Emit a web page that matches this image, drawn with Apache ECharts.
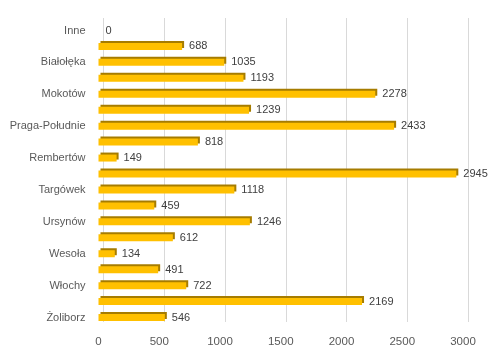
<!DOCTYPE html>
<html><head><meta charset="utf-8">
<script src="https://cdn.jsdelivr.net/npm/echarts@6/dist/echarts.min.js"></script>
<style>html,body{margin:0;padding:0;background:#fff}#c{width:498px;height:360px}</style>
</head><body><div id="c"></div>
<script>
const categories = ['Inne','Bemowo','Białołęka','Bielany','Mokotów','Ochota','Praga-Południe','Praga-Północ','Rembertów','Śródmieście','Targówek','Ursus','Ursynów','Wawer','Wesoła','Wilanów','Włochy','Wola','Żoliborz'];
const values = [0,688,1035,1193,2278,1239,2433,818,149,2945,1118,459,1246,612,134,491,722,2169,546];
const xTicks = [0,500,1000,1500,2000,2500,3000];

const chart = echarts.init(document.getElementById('c'), null, {renderer:'canvas'});
const font = 'Liberation Sans';
chart.setOption({
  animation:false,
  backgroundColor:'#fff',
  grid:[
    {left:98.5, right:35, top:22.5, bottom:34.5},
    {left:103.5, right:30, top:18, bottom:38}
  ],
  xAxis:[
    {gridIndex:0, type:'value', min:xTicks[0], max:xTicks[xTicks.length-1], interval:500,
     axisLine:{show:false}, axisTick:{show:false}, splitLine:{show:false},
     axisLabel:{color:'#595959', fontFamily:font, fontSize:11.5, margin:10, formatter:v=>String(v)}},
    {gridIndex:1, type:'value', min:xTicks[0], max:xTicks[xTicks.length-1], interval:500,
     axisLine:{show:false}, axisTick:{show:false}, axisLabel:{show:false},
     splitLine:{show:true, lineStyle:{color:'#D9D9D9', width:1}}}
  ],
  yAxis:[
    {gridIndex:0, type:'category', data:categories, inverse:true,
     axisLine:{show:false}, axisTick:{show:false}, splitLine:{show:false},
     axisLabel:{interval:1, color:'#595959', fontFamily:font, fontSize:11, margin:13}},
    {gridIndex:1, type:'category', data:categories, inverse:true, show:false}
  ],
  series:[{
    type:'bar', xAxisIndex:0, yAxisIndex:0, data:values, barWidth:7,
    itemStyle:{color:'#FFC000', shadowColor:'#A67C00', shadowBlur:0, shadowOffsetX:2, shadowOffsetY:-2},
    label:{show:true, position:'right', distance:7, color:'#404040', fontFamily:font, fontSize:11}
  }]
});
</script></body></html>
